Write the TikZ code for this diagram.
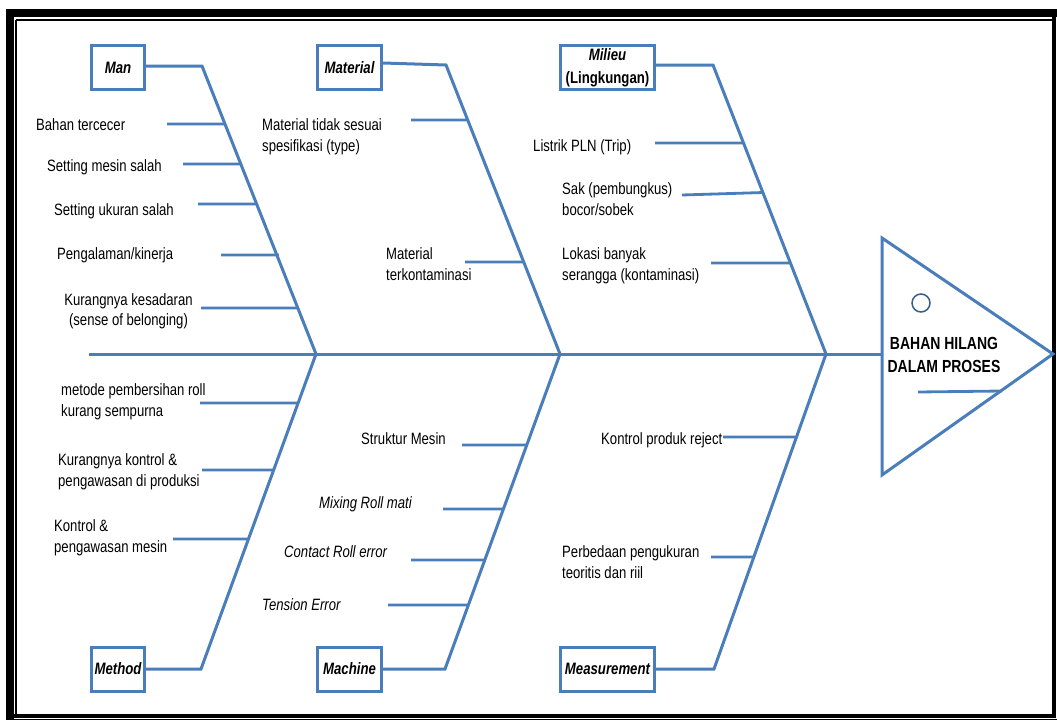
\documentclass[tikz,border=0pt]{standalone}
\usepackage{fontspec}
\setmainfont{Liberation Sans}[FakeStretch=0.8]
\usetikzlibrary{calc}
\definecolor{bblue}{HTML}{4A7EBB}
\definecolor{cblue}{HTML}{385D8A}
\begin{document}
\begin{tikzpicture}[x=1pt,y=-1pt,
  bone/.style={draw=bblue,line width=3pt},
  tick/.style={draw=bblue,line width=2.8pt},
  lbl/.style={anchor=north west,inner sep=0pt,align=left,font=\fontsize{16.4}{21}\selectfont},
  lblc/.style={anchor=north,inner sep=0pt,align=center,font=\fontsize{16.4}{20.5}\selectfont},
  catbox/.style={draw=bblue,line width=3pt,inner sep=0pt,align=center,minimum height=44pt,font=\fontsize{16.5}{23}\selectfont\bfseries\itshape},
  headtxt/.style={inner sep=0pt,align=center,font=\fontsize{17.5}{23}\selectfont\bfseries}]
\useasboundingbox (0,0) rectangle (1057,720);
% frame
\fill[black] (6,9) rectangle (1057,17);
\fill[black] (6,9) rectangle (14,720);
\fill[black] (1052,9) rectangle (1056,717.5);
\fill[black] (6,714) rectangle (1056,717.5);
\fill[black] (6,718.8) rectangle (1057,720);
\draw[black,line width=1.5pt] (16,20) -- (1052,20);
\draw[black,line width=1.5pt] (16,20) -- (16,714);
% category boxes
\node[catbox,minimum width=53pt] (man) at (118,67.5) {Man};
\node[catbox,minimum width=64pt] (material) at (349.5,67.5) {Material};
\node[catbox,minimum width=94pt] (milieu) at (607.5,67.5) {Milieu\\\upshape(Lingkungan)};
\node[catbox,minimum width=53pt] (method) at (118,669) {Method};
\node[catbox,minimum width=64pt] (machine) at (349.5,669) {Machine};
\node[catbox,minimum width=94pt] (measure) at (607.5,669) {Measurement};
% head
\coordinate (hT) at (882,238);
\coordinate (hA) at (1053,354);
\coordinate (hB) at (882,475);
\draw[bone] (hT) -- (hA) -- (hB) -- cycle;
\node[draw=cblue,line width=1.5pt,circle,minimum size=18pt,inner sep=0pt] (circ) at (921,303) {};
\node[headtxt] (effect) at (944,355) {BAHAN HILANG\\DALAM PROSES};
\coordinate (hl1) at (918,392);
\coordinate (hl2) at (1002,391);
\draw[tick] (hl1) -- (hl2);
% spine
\coordinate (tail) at (89,354);
\coordinate (J1) at (316,354);
\coordinate (J2) at (560,354);
\coordinate (J3) at (826,354);
\draw[bone] (tail) -- (hT |- tail);
% bends
\coordinate (ManB) at (202,66);
\coordinate (MatB) at (446,65);
\coordinate (MilB) at (713,65);
\coordinate (MetB) at (201,669);
\coordinate (MacB) at (445,669);
\coordinate (MeaB) at (714,669);
\draw[bone] (man.east |- ManB) -- (ManB) -- (J1);
\draw[bone] ([yshift=4.5pt]material.east) -- (MatB) -- (J2);
\draw[bone] (milieu.east |- MilB) -- (MilB) -- (J3);
\draw[bone] (method.east) -- (MetB) -- (J1);
\draw[bone] (machine.east) -- (MacB) -- (J2);
\draw[bone] (measure.east) -- (MeaB) -- (J3);
% Man ticks
\coordinate (m1) at (167,124);
\coordinate (m2) at (183,164);
\coordinate (m3) at (198,204);
\coordinate (m4) at (221,255);
\coordinate (m5) at (201,308);
\draw[tick] (m1) -- ($(ManB)!.2014!(J1)$);
\draw[tick] (m2) -- ($(ManB)!.3403!(J1)$);
\draw[tick] (m3) -- ($(ManB)!.4792!(J1)$);
\draw[tick] (m4) -- ($(ManB)!.6563!(J1)+(2,0)$);
\draw[tick] (m5) -- ($(ManB)!.8403!(J1)$);
\node[lbl] (tm1) at (36,118) {Bahan tercecer};
\node[lbl] (tm2) at (47,159) {Setting mesin salah};
\node[lbl] (tm3) at (54,203) {Setting ukuran salah};
\node[lbl] (tm4) at (57,247.5) {Pengalaman/kinerja};
\node[lblc] (tm5) at (128.5,293) {Kurangnya kesadaran\\(sense of belonging)};
% Method ticks
\coordinate (d1) at (200,403);
\coordinate (d2) at (202,470);
\coordinate (d3) at (173,539);
\draw[tick] (d1) -- ($(MetB)!.8444!(J1)$);
\draw[tick] (d2) -- ($(MetB)!.6317!(J1)$);
\draw[tick] (d3) -- ($(MetB)!.4127!(J1)$);
\node[lbl] (td1) at (61,383.5) {metode pembersihan roll\\kurang sempurna};
\node[lbl] (td2) at (58,453.5) {Kurangnya kontrol \&\\pengawasan di produksi};
\node[lbl] (td3) at (54,519.5) {Kontrol \&\\pengawasan mesin};
% Material ticks
\coordinate (a1) at (411,120);
\coordinate (a2) at (465,262);
\draw[tick] (a1) -- ($(MatB)!.1903!(J2)$);
\draw[tick] (a2) -- ($(MatB)!.6817!(J2)$);
\node[lbl] (ta1) at (262,118) {Material tidak sesuai\\spesifikasi (type)};
\node[lbl] (ta2) at (386,247.5) {Material\\terkontaminasi};
% Milieu ticks
\coordinate (l1) at (655,143);
\coordinate (l2) at (682,195);
\coordinate (l3) at (711,263);
\draw[tick] (l1) -- ($(MilB)!.2699!(J3)$);
\draw[tick] (l2) -- ($(MilB)!.4464!(J3)+(0,-1.5)$);
\draw[tick] (l3) -- ($(MilB)!.6851!(J3)$);
\node[lbl] (tl1) at (533,139.5) {Listrik PLN (Trip)};
\node[lbl] (tl2) at (562,182.5) {Sak (pembungkus)\\bocor/sobek};
\node[lbl] (tl3) at (562,247.5) {Lokasi banyak\\serangga (kontaminasi)};
% Machine ticks
\coordinate (c1) at (462,445);
\coordinate (c2) at (443,509);
\coordinate (c3) at (411,560);
\coordinate (c4) at (388,605);
\draw[tick] (c1) -- ($(MacB)!.7111!(J2)$);
\draw[tick] (c2) -- ($(MacB)!.5079!(J2)$);
\draw[tick] (c3) -- ($(MacB)!.3460!(J2)$);
\draw[tick] (c4) -- ($(MacB)!.2032!(J2)$);
\node[lbl] (tc1) at (361,432) {Struktur Mesin};
\node[lbl,font=\fontsize{16.4}{21}\selectfont\itshape] (tc2) at (319,496.5) {Mixing Roll mati};
\node[lbl,font=\fontsize{16.4}{21}\selectfont\itshape] (tc3) at (284,545.5) {Contact Roll error};
\node[lbl,font=\fontsize{16.4}{21}\selectfont\itshape] (tc4) at (262,598.5) {Tension Error};
% Measurement ticks
\coordinate (s1) at (723,437);
\coordinate (s2) at (711,557);
\draw[tick] (s1) -- ($(MeaB)!.7365!(J3)$);
\draw[tick] (s2) -- ($(MeaB)!.3556!(J3)$);
\node[lbl] (ts1) at (601,432) {Kontrol produk reject};
\node[lbl] (ts2) at (562,545.5) {Perbedaan pengukuran\\teoritis dan riil};
\end{tikzpicture}
\end{document}
